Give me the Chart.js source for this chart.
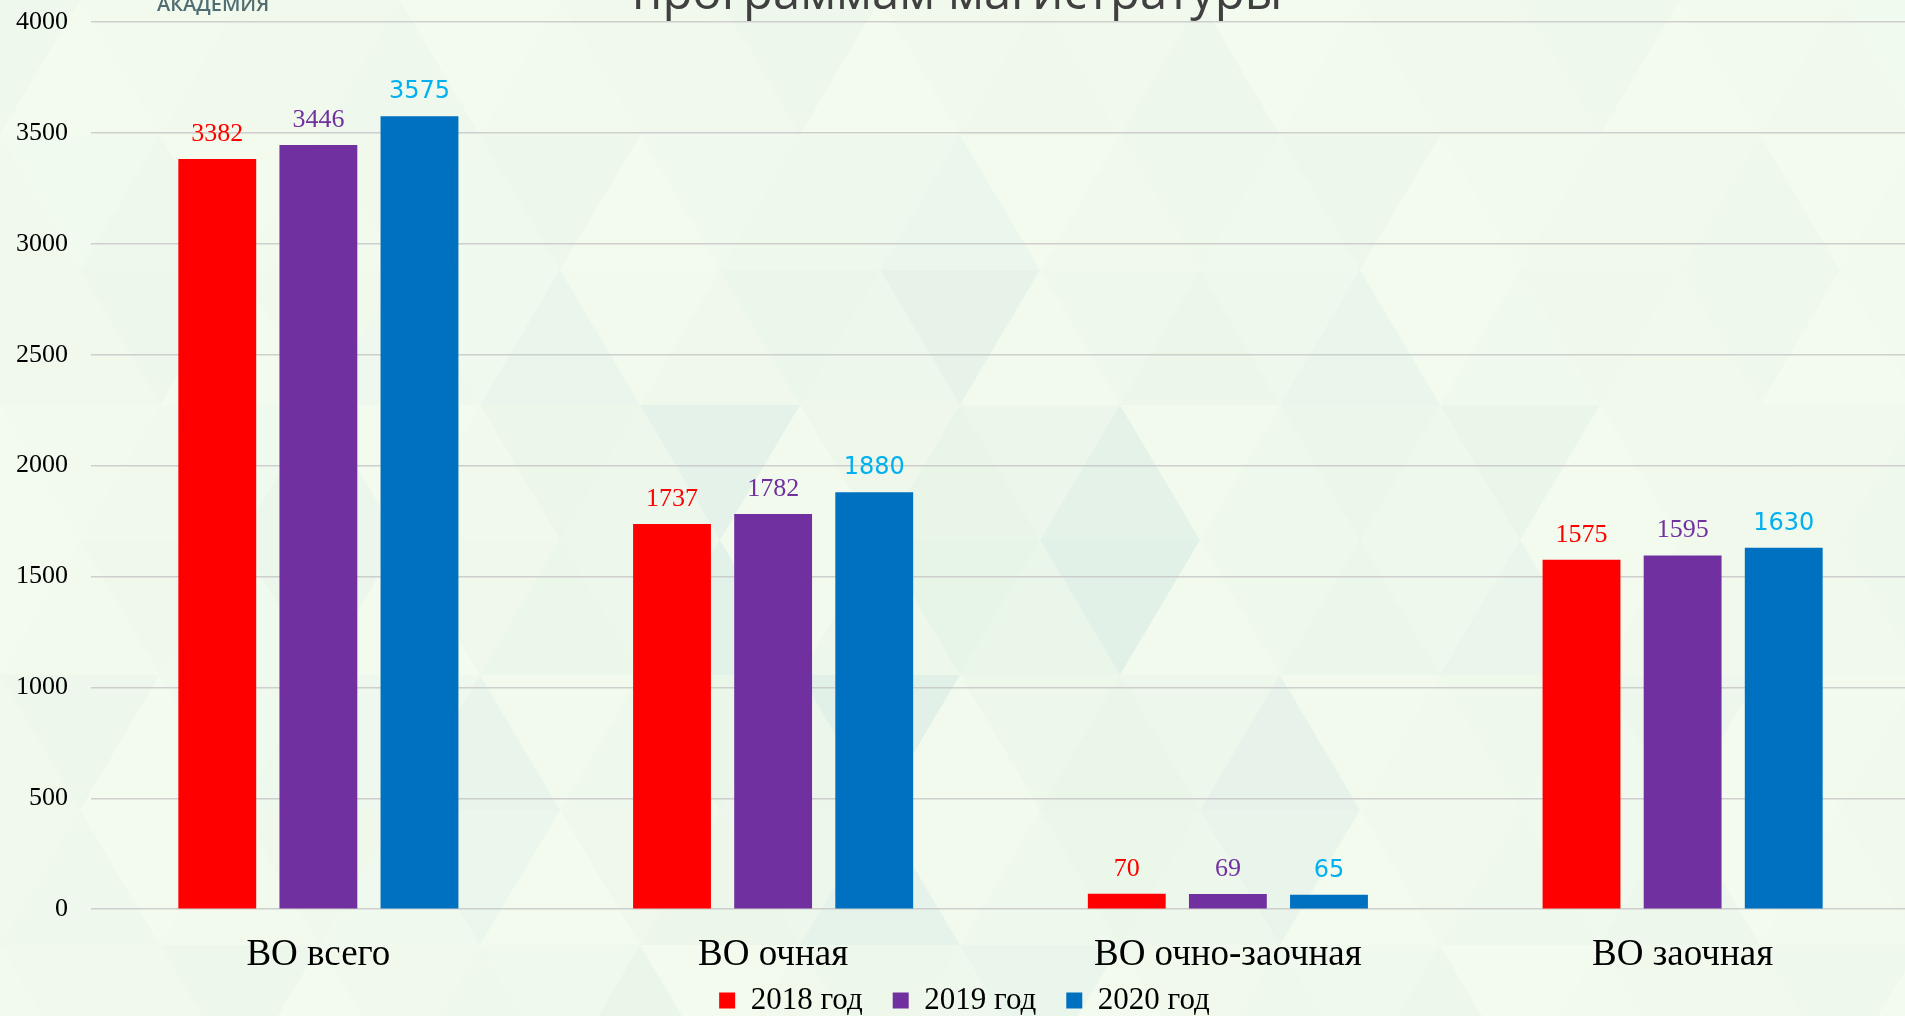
<!DOCTYPE html>
<html lang="ru">
<head>
<meta charset="utf-8">
<title>ВО</title>
<script src="https://cdn.jsdelivr.net/npm/chart.js@4.4.1/dist/chart.umd.min.js"></script>
<style>
  html, body { margin: 0; padding: 0; background: #F4FBEF; overflow: hidden; }
  #wrap { width: 1910px; height: 1016px; position: relative; }
</style>
</head>
<body>
<div id="wrap"><canvas id="voChart"></canvas></div>
<script>
const categories = ["ВО всего", "ВО очная", "ВО очно-заочная", "ВО заочная"];
const seriesNames = ["2018 год", "2019 год", "2020 год"];
const values2018 = [3382, 1737, 70, 1575];
const values2019 = [3446, 1782, 69, 1595];
const values2020 = [3575, 1880, 65, 1630];
const yMax = 4000;
const yStep = 500;

// backdrop: pale triangle mosaic + the cut-off slide header
const backdrop = {
    id: "backdrop",
    beforeDraw(chart) {
        const c = chart.ctx;
        const W = chart.width, H = chart.height;
        c.save();
        c.fillStyle = "#F4FBEF";
        c.fillRect(0, 0, W, H);
        const side = 160, rowH = 135;
        for (let r = -1; r < H / rowH + 1; r++) {
            for (let k = -2; k < W / (side / 2) + 2; k++) {
                const x0 = k * side / 2 + (r % 2 ? side / 2 : 0);
                const y0 = r * rowH;
                const up = (k % 2 === 0);
                const cx = x0 + side / 2, cy = y0 + rowH / 2;
                const dx = (cx - 950) / 520, dy = (cy - 620) / 380;
                const w = Math.exp(-(dx * dx + dy * dy));
                const v = ((k * 7 + r * 13) % 5 + 5) % 5;
                const a = (0.04 + 0.05 * v) * (0.35 + w);
                c.fillStyle = v % 2 ? "rgba(170,210,210," + a.toFixed(3) + ")" : "rgba(205,232,215," + a.toFixed(3) + ")";
                c.beginPath();
                if (up) {
                    c.moveTo(x0, y0 + rowH); c.lineTo(x0 + side / 2, y0); c.lineTo(x0 + side, y0 + rowH);
                } else {
                    c.moveTo(x0, y0); c.lineTo(x0 + side, y0); c.lineTo(x0 + side / 2, y0 + rowH);
                }
                c.closePath();
                c.fill();
            }
        }
        c.textAlign = "left";
        c.textBaseline = "alphabetic";
        c.fillStyle = "#4F6D72";
        c.font = "600 20px 'Open Sans'";
        c.fillText("АКАДЕМИЯ", 157, 11);
        c.fillStyle = "#404040";
        c.font = "49px 'Open Sans'";
        c.fillText("программам магистратуры", 632, 9);
        c.restore();
    }
};

// values above the bars, in the colour of each series
const valueLabels = {
    id: "valueLabels",
    afterDatasetsDraw(chart) {
        const c = chart.ctx;
        c.save();
        c.textAlign = "center";
        c.textBaseline = "alphabetic";
        chart.data.datasets.forEach((ds, i) => {
            const meta = chart.getDatasetMeta(i);
            c.fillStyle = ds.labelColor;
            c.font = ds.labelFont;
            meta.data.forEach((bar, j) => {
                c.fillText(String(ds.data[j]), bar.x, bar.y - 18);
            });
        });
        c.restore();
    }
};

// place the legend row where it sits on the slide
const legendShift = {
    id: "legendShift",
    afterLayout(chart) {
        const lg = chart.legend;
        if (!lg) return;
        lg.left += 9.5; lg.right += 9.5;
        lg.top = 955; lg.bottom = lg.top + lg.height;
    }
};

const ctx = document.getElementById("voChart").getContext("2d");
new Chart(ctx, {
    type: "bar",
    data: {
        labels: categories,
        datasets: [
            { label: seriesNames[0], data: values2018, backgroundColor: "#FF0000",
              labelColor: "#FF0000", labelFont: "26px 'Liberation Serif'" },
            { label: seriesNames[1], data: values2019, backgroundColor: "#7030A0",
              labelColor: "#7030A0", labelFont: "26px 'Liberation Serif'" },
            { label: seriesNames[2], data: values2020, backgroundColor: "#0070C0",
              labelColor: "#00B0F0", labelFont: "24px 'DejaVu Sans'" }
        ]
    },
    options: {
        responsive: true,
        maintainAspectRatio: false,
        animation: false,
        categoryPercentage: 0.667,
        barPercentage: 0.77,
        layout: { padding: { top: 22, left: 0, right: 0, bottom: -32.6 } },
        plugins: {
            title: { display: false },
            tooltip: { enabled: false },
            legend: {
                position: "bottom",
                labels: {
                    boxWidth: 16,
                    boxHeight: 16,
                    padding: 30,
                    color: "#000000",
                    font: { family: "'Liberation Serif'", size: 31 }
                }
            }
        },
        scales: {
            x: {
                grid: { display: false, drawTicks: false },
                border: { display: false },
                ticks: {
                    padding: 24,
                    color: "#000000",
                    font: { family: "'Liberation Serif'", size: 37 }
                },
                afterFit(scale) { scale.height = 68.4; }
            },
            y: {
                min: 0,
                max: yMax,
                ticks: {
                    stepSize: yStep,
                    padding: 23,
                    color: "#000000",
                    font: { family: "'Liberation Serif'", size: 26 },
                    callback: (v) => String(v)
                },
                grid: { color: "rgba(200,200,200,0.85)", lineWidth: 1.5, drawTicks: false },
                border: { display: false },
                afterFit(scale) {
                    scale.width = 91;
                    scale.paddingTop = 0;
                    scale.paddingBottom = 0;
                }
            }
        }
    },
    plugins: [backdrop, valueLabels, legendShift]
});
</script>
</body>
</html>
